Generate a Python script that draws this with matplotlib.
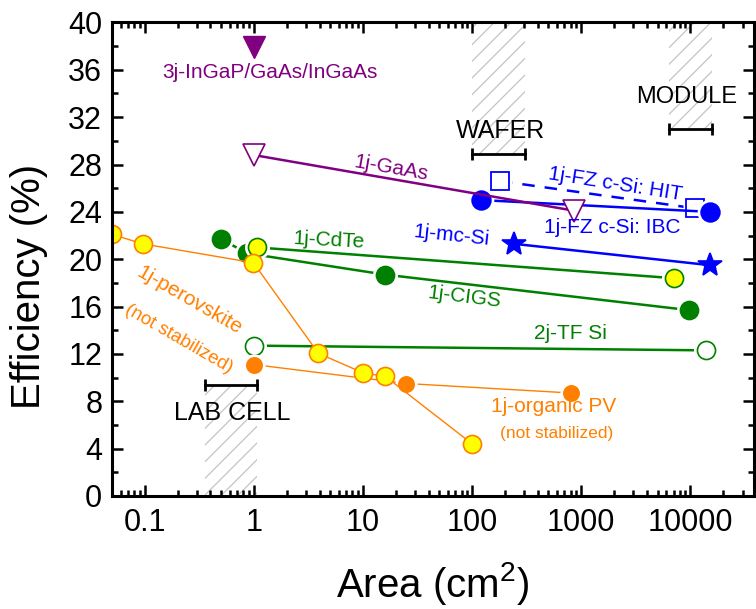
import matplotlib
matplotlib.use('Agg')
import matplotlib.pyplot as plt
from matplotlib.ticker import LogLocator, FuncFormatter, MultipleLocator

plt.rcParams['font.family'] = ['Liberation Sans', 'DejaVu Sans']
plt.rcParams['mathtext.fontset'] = 'custom'
plt.rcParams['mathtext.rm'] = 'Liberation Sans'
plt.rcParams['hatch.color'] = '#c4c4c4'
plt.rcParams['hatch.linewidth'] = 0.9

# colours (Origin-like)
PURPLE = '#800080'
BLUE = '#0000ff'
GREEN = '#008000'
ORANGE = '#ff8000'
YELLOW = '#ffff00'

# data: area (cm2), efficiency (%)
inga_x = [1.0]
inga_y = [37.9]
gaas_x = [1.0, 858]
gaas_y = [28.8, 24.1]

ibc_x = [120, 15000]
ibc_y = [25.0, 24.0]
hit_x = [180, 11000]
hit_y = [26.6, 24.3]
mcsi_x = [242, 15000]
mcsi_y = [21.3, 19.5]

cdte_x = [1.06, 7000]
cdte_y = [21.0, 18.4]
cigs_x = [0.5, 0.87, 15.9, 9700]
cigs_y = [21.7, 20.5, 18.7, 15.7]
tfsi_x = [1.0, 14000]
tfsi_y = [12.7, 12.3]

pero_x = [0.05, 0.096, 0.99, 3.9, 10, 16, 100]
pero_y = [22.1, 21.3, 19.7, 12.05, 10.4, 10.1, 4.4]
opv_x = [1.0, 25, 800]
opv_y = [11.1, 9.5, 8.7]

# size classes: (area min, area max, efficiency of bracket)
lab_range = [0.357, 1.06]
lab_eff = 9.4
wafer_range = [100, 303]
wafer_eff = 28.9
module_range = [6420, 15800]
module_eff = 31.0

fig = plt.figure(figsize=(7.56, 6.09), dpi=100)
ax = fig.add_axes([0.148, 0.1856, 0.849, 0.7775])


def series(x, y, z, color, lw=1.8, ls='-', marker='o', ms=13, mfc=None,
           mec=None, mew=1.2, gap=True):
    # line first, then a white halo so the line stops short of the marker
    ax.plot(x, y, color=color, lw=lw, ls=ls, zorder=z)
    if gap:
        ax.plot(x, y, ls='none', marker=marker, ms=ms + 5, mfc='white',
                mec='none', zorder=z + 0.01)
    ax.plot(x, y, ls='none', marker=marker, ms=ms, mfc=mfc or color,
            mec=mec or color, mew=mew, zorder=z + 0.02)


# hatched size regions
ax.fill_between(lab_range, 0, lab_eff, facecolor='none', edgecolor='#c4c4c4',
                hatch='//', linewidth=0, zorder=0)
ax.fill_between(wafer_range, wafer_eff, 40, facecolor='none', edgecolor='#c4c4c4',
                hatch='//', linewidth=0, zorder=0)
ax.fill_between(module_range, module_eff, 40, facecolor='none', edgecolor='#c4c4c4',
                hatch='//', linewidth=0, zorder=0)
for rng, eff in [(lab_range, lab_eff), (wafer_range, wafer_eff), (module_range, module_eff)]:
    ax.plot(rng, [eff, eff], color='k', lw=2.0, marker='|', ms=9, mew=2.0, zorder=2)

# green
series(tfsi_x, tfsi_y, 3.0, GREEN, mfc='white')
series(cigs_x, cigs_y, 3.1, GREEN)
series(cdte_x, cdte_y, 3.2, GREEN, mfc=YELLOW)

# blue
series(mcsi_x, mcsi_y, 3.3, BLUE, marker='*', ms=18, gap=False)
series(hit_x, hit_y, 3.4, BLUE, ls=(0, (5, 4)), marker='s', ms=12.5,
       mfc='white', mew=1.3)
series(ibc_x, ibc_y, 3.5, BLUE, ms=13.5)

# purple
series(gaas_x, gaas_y, 4.0, PURPLE, marker='v', ms=16, mfc='white', gap=False)
ax.plot(inga_x, inga_y, ls='none', marker='v', ms=16, mfc=PURPLE, mec=PURPLE,
        zorder=4)

# orange
series(opv_x, opv_y, 5.0, ORANGE, lw=1.0, ms=11)
series(pero_x, pero_y, 5.5, ORANGE, lw=1.0, ms=13, mfc=YELLOW, gap=False)

# labels
labels = [
    (1.39, 35.8, '3j-InGaP/GaAs/InGaAs', PURPLE, 15, 0),
    (18.2, 27.7, '1j-GaAs', PURPLE, 15, -10),
    (2050, 26.3, '1j-FZ c-Si: HIT', BLUE, 15, -9),
    (1940, 22.7, '1j-FZ c-Si: IBC', BLUE, 15, 0),
    (65, 22.0, '1j-mc-Si', BLUE, 15, -6),
    (4.8, 21.6, '1j-CdTe', GREEN, 15, -3),
    (85, 16.8, '1j-CIGS', GREEN, 15, -7),
    (796, 13.7, '2j-TF Si', GREEN, 15, 0),
    (0.255, 16.55, '1j-perovskite', ORANGE, 15, -30),
    (0.207, 13.3, '(not stabilized)', ORANGE, 13.5, -30),
    (563, 7.6, '1j-organic PV', ORANGE, 15, 0),
    (594, 5.3, '(not stabilized)', ORANGE, 12.5, 0),
    (0.634, 7.0, 'LAB CELL', 'k', 18, 0),
    (183, 30.8, 'WAFER', 'k', 18, 0),
    (9240, 33.7, 'MODULE', 'k', 17, 0),
]
for lx, ly, s, c, fs, rot in labels:
    ax.text(lx, ly, s, color=c, fontsize=fs, ha='center', va='center',
            rotation=rot, zorder=20)

# axes
ax.set_xscale('log')
ax.set_xlim(0.05, 38000)
ax.set_ylim(0, 40)
ax.xaxis.set_major_locator(LogLocator(base=10))
ax.xaxis.set_minor_locator(LogLocator(base=10, subs=range(2, 10)))
ax.xaxis.set_major_formatter(FuncFormatter(lambda v, p: f'{v:g}'))
ax.yaxis.set_major_locator(MultipleLocator(4))
ax.yaxis.set_minor_locator(MultipleLocator(2))

ax.tick_params(which='both', direction='in', top=True, right=True, width=1.8)
ax.tick_params(which='major', length=8, labelsize=22)
ax.tick_params(which='minor', length=4.5)
ax.tick_params(axis='x', which='major', pad=9)
ax.tick_params(axis='y', which='major', pad=7)
for sp in ax.spines.values():
    sp.set_linewidth(2.2)
    sp.set_zorder(10)

ax.set_xlabel(r'Area (cm$^{\mathregular{2}}$)', fontsize=29)
ax.set_ylabel('Efficiency (%)', fontsize=29)
ax.xaxis.set_label_coords(0.5, -0.135)
ax.yaxis.set_label_coords(-0.1, 0.442)

fig.savefig('out.png', dpi=100)
